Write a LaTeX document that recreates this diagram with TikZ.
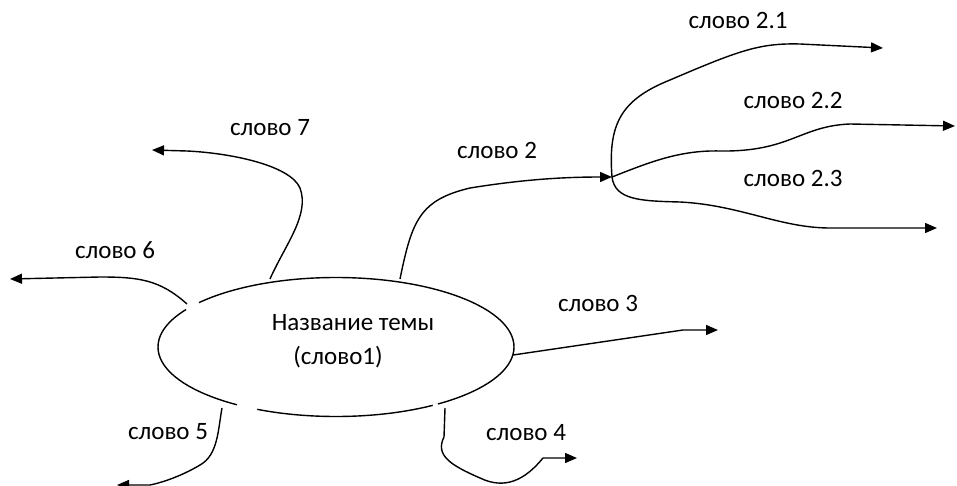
\documentclass[tikz,border=0pt]{standalone}
\usepackage{fontspec}
\setmainfont{Carlito}
\usetikzlibrary{arrows.meta,shapes.geometric}
\begin{document}
\begin{tikzpicture}[x=1pt,y=-1pt,
  conn/.style={line width=1.4pt,-{Triangle[length=12pt,width=10pt]}},
  lbl/.style={font=\fontsize{25}{30}\selectfont,inner sep=0pt},
  gapw/.style={white,line width=4pt}]
\useasboundingbox (0,0) rectangle (957,486);
\node[ellipse,draw,line width=1.4pt,minimum width=356pt,minimum height=139pt,inner sep=0pt] (topic) at (336,347) {};
\draw[gapw] (186,309) -- (199,303);
\draw[gapw] (237,405.5) -- (257,410);
\draw[gapw] (433,406) -- (438,405);
\node[lbl] (title1) at (353,323) {Название темы};
\node[lbl] (title2) at (338,357) {(слово1)};
% labels
\node[lbl] (l7) at (270,128) {слово 7};
\node[lbl] (l6) at (115,250) {слово 6};
\node[lbl] (l2) at (497,150) {слово 2};
\node[lbl] (l21) at (738,20) {слово 2.1};
\node[lbl] (l22) at (793,100) {слово 2.2};
\node[lbl] (l23) at (793,178) {слово 2.3};
\node[lbl] (l3) at (598,303) {слово 3};
\node[lbl] (l4) at (526,433) {слово 4};
\node[lbl] (l5) at (168,432) {слово 5};
% coordinates
\coordinate (s7) at (270,279);
\coordinate (e7) at (152,150);
\coordinate (s6) at (187,304);
\coordinate (e6) at (10,279);
\coordinate (s2) at (400,279);
\coordinate (b2) at (612,177);
\coordinate (e21) at (883,48);
\coordinate (e22) at (955,126);
\coordinate (e23) at (937,228);
\coordinate (s3) at (513,355);
\coordinate (e3) at (718,330);
\coordinate (s4) at (445,408);
\coordinate (e4) at (577,458);
\coordinate (s5) at (222,408);
\coordinate (e5) at (117,485);
% connectors
\draw[conn] (s7) .. controls (285,245) and (310,215) .. (300,188) .. controls (290,165) and (230,153) .. (187,151) -- (e7);
\draw[conn] (s6) .. controls (160,280) and (140,277) .. (100,277) -- (e6);
\draw[conn] (s2) .. controls (412,220) and (420,200) .. (470,188) .. controls (520,180) and (560,177) .. (b2);
\draw[conn] (b2) .. controls (608,125) and (620,100) .. (670,80) .. controls (740,50) and (760,43) .. (800,44) -- (e21);
\draw[conn] (b2) .. controls (650,162) and (680,150) .. (720,151) .. controls (790,152) and (800,126) .. (850,124) -- (e22);
\draw[conn] (b2) .. controls (615,200) and (640,201) .. (680,202) .. controls (740,205) and (780,228) .. (830,228) -- (e23);
\draw[conn] (s3) -- (683,330) -- (e3);
\draw[conn] (s4) -- (444,437) .. controls (435,455) and (450,465) .. (480,478) .. controls (505,490) and (525,480) .. (543,458) -- (e4);
\draw[conn] (s5) .. controls (218,430) and (218,455) .. (200,465) .. controls (180,477) and (160,483) .. (150,485) -- (e5);
\end{tikzpicture}
\end{document}
